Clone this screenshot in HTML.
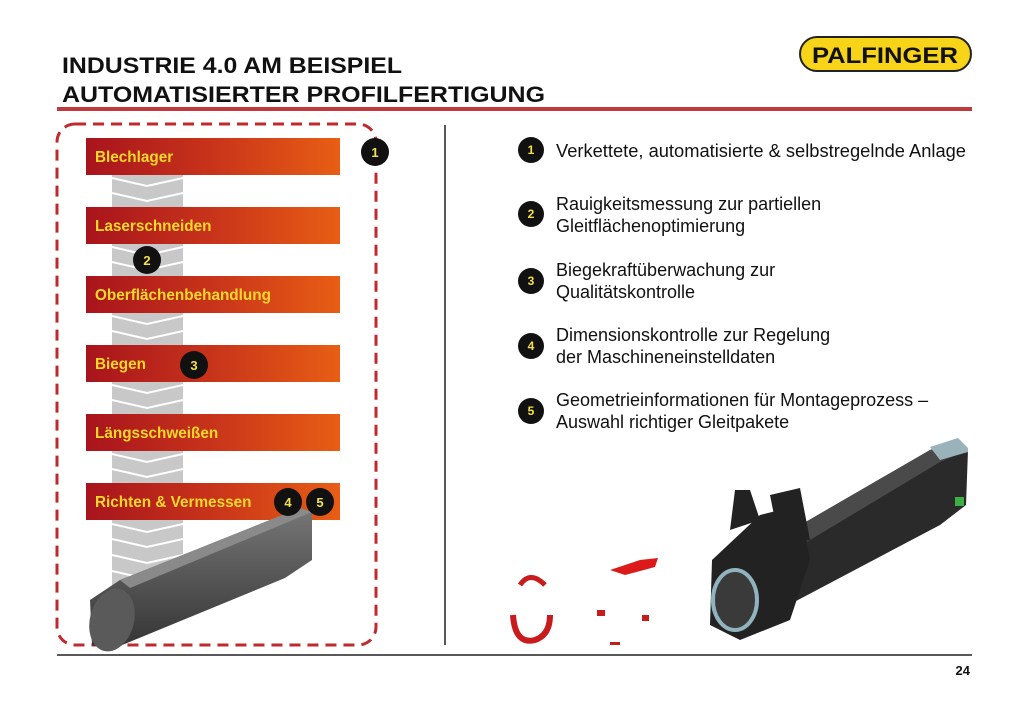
<!DOCTYPE html>
<html><head><meta charset="utf-8"><style>
html,body{margin:0;padding:0;background:#fff;}
svg{display:block;}
text{font-family:"Liberation Sans",Arial,sans-serif;}
</style></head><body>
<svg width="1024" height="702" viewBox="0 0 1024 702" xmlns="http://www.w3.org/2000/svg">
<defs>
<linearGradient id="bar" x1="0" x2="1" y1="0" y2="0">
<stop offset="0" stop-color="#a8141c"/><stop offset="0.5" stop-color="#c8341a"/><stop offset="1" stop-color="#e85e14"/>
</linearGradient>
<linearGradient id="tube" x1="0" x2="0" y1="0" y2="1">
<stop offset="0" stop-color="#777"/><stop offset="0.5" stop-color="#555"/><stop offset="1" stop-color="#333"/>
</linearGradient>
</defs>
<rect width="1024" height="702" fill="#fff"/>
<text x="62" y="73" font-size="22" font-weight="bold" fill="#111" textLength="340" lengthAdjust="spacingAndGlyphs">INDUSTRIE 4.0 AM BEISPIEL</text>
<text x="62" y="102" font-size="22" font-weight="bold" fill="#111" textLength="483" lengthAdjust="spacingAndGlyphs">AUTOMATISIERTER PROFILFERTIGUNG</text>
<rect x="57" y="107" width="915" height="4" fill="#c0393b"/>
<!-- logo -->
<rect x="800" y="37" width="171" height="34" rx="17" fill="#f7d417" stroke="#222" stroke-width="2"/>
<text x="885" y="63" font-size="22" font-weight="bold" text-anchor="middle" fill="#111" textLength="146" lengthAdjust="spacingAndGlyphs">PALFINGER</text>
<!-- left dashed box -->
<rect x="57" y="124" width="319" height="521" rx="18" fill="none" stroke="#c0292e" stroke-width="3" stroke-dasharray="11,7"/>
<!-- gray chevron column -->
<rect x="112" y="175" width="71" height="440" fill="#c8c8c8"/>
<g stroke="#fff" stroke-width="2" fill="none">
<polyline points="112,178 147,186 183,178"/><polyline points="112,193 147,201 183,193"/>
<polyline points="112,247 147,255 183,247"/><polyline points="112,262 147,270 183,262"/>
<polyline points="112,316 147,324 183,316"/><polyline points="112,331 147,339 183,331"/>
<polyline points="112,385 147,393 183,385"/><polyline points="112,400 147,408 183,400"/>
<polyline points="112,454 147,462 183,454"/><polyline points="112,469 147,477 183,469"/>
<polyline points="112,524 147,532 183,524"/><polyline points="112,539 147,547 183,539"/>
<polyline points="112,555 147,563 183,555"/><polyline points="112,571 147,579 183,571"/>
</g>
<g font-size="15.3" font-weight="bold" fill="#f8d92a">
<rect x="86" y="138" width="254" height="37" fill="url(#bar)"/><text x="95" y="162">Blechlager</text>
<rect x="86" y="207" width="254" height="37" fill="url(#bar)"/><text x="95" y="231">Laserschneiden</text>
<rect x="86" y="276" width="254" height="37" fill="url(#bar)"/><text x="95" y="300">Oberflächenbehandlung</text>
<rect x="86" y="345" width="254" height="37" fill="url(#bar)"/><text x="95" y="369">Biegen</text>
<rect x="86" y="414" width="254" height="37" fill="url(#bar)"/><text x="95" y="438">Längsschweißen</text>
<rect x="86" y="483" width="254" height="37" fill="url(#bar)"/><text x="95" y="507">Richten &amp; Vermessen</text>
</g>
<!-- tube -->
<polygon points="120,580 300,508 312,512 312,560 285,578 110,650 92,645 90,600" fill="url(#tube)"/>
<polygon points="120,580 300,508 312,512 130,588" fill="#8a8a8a"/>
<ellipse cx="112" cy="620" rx="22" ry="32" fill="#5a5a5a" transform="rotate(15 112 620)"/>
<!-- badges left -->
<g font-size="13" font-weight="bold" fill="#f3e04a" text-anchor="middle">
<circle cx="375" cy="152" r="14" fill="#111"/><text x="375" y="157">1</text>
<circle cx="147" cy="260" r="14" fill="#111"/><text x="147" y="265">2</text>
<circle cx="194" cy="365" r="14" fill="#111"/><text x="194" y="370">3</text>
<circle cx="288" cy="502" r="14" fill="#111"/><text x="288" y="507">4</text>
<circle cx="320" cy="502" r="14" fill="#111"/><text x="320" y="507">5</text>
</g>
<!-- divider -->
<line x1="445" y1="125" x2="445" y2="645" stroke="#222" stroke-width="1.5"/>
<!-- right list -->
<g font-size="12" font-weight="bold" fill="#f3e04a" text-anchor="middle">
<circle cx="531" cy="150" r="13" fill="#111"/><text x="531" y="154">1</text>
<circle cx="531" cy="214" r="13" fill="#111"/><text x="531" y="218">2</text>
<circle cx="531" cy="281" r="13" fill="#111"/><text x="531" y="285">3</text>
<circle cx="531" cy="346" r="13" fill="#111"/><text x="531" y="350">4</text>
<circle cx="531" cy="411" r="13" fill="#111"/><text x="531" y="415">5</text>
</g>
<g font-size="18" fill="#111">
<text x="556" y="157" textLength="410" lengthAdjust="spacingAndGlyphs">Verkettete, automatisierte &amp; selbstregelnde Anlage</text>
<text x="556" y="210">Rauigkeitsmessung zur partiellen</text>
<text x="556" y="232">Gleitflächenoptimierung</text>
<text x="556" y="276">Biegekraftüberwachung zur</text>
<text x="556" y="298">Qualitätskontrolle</text>
<text x="556" y="341">Dimensionskontrolle zur Regelung</text>
<text x="556" y="363">der Maschineneinstelldaten</text>
<text x="556" y="406">Geometrieinformationen für Montageprozess –</text>
<text x="556" y="428">Auswahl richtiger Gleitpakete</text>
</g>
<!-- right 3D part -->
<polygon points="740,560 930,450 958,440 968,450 966,505 940,525 760,620 720,620" fill="#2a2a2a"/>
<polygon points="740,560 930,450 958,440 968,450 940,462 760,570" fill="#4a4a4a"/>
<polygon points="930,447 958,438 968,448 968,452 940,460" fill="#9ab3bb"/>
<rect x="955" y="497" width="9" height="9" fill="#3cb043"/>
<path d="M712,560 L760,515 L800,505 L810,560 L790,620 L740,640 L710,625 Z" fill="#222"/>
<ellipse cx="735" cy="600" rx="22" ry="30" fill="#3a3a3a" stroke="#8fb4bd" stroke-width="4"/>
<path d="M735,490 L750,490 L760,520 L730,530 Z M770,495 L800,488 L810,540 L780,545 Z" fill="#222"/>
<!-- red parts -->
<path d="M520,585 Q530,570 545,585" stroke="#c81c1c" stroke-width="5" fill="none"/>
<path d="M513,615 Q515,645 535,640 Q550,635 550,615" stroke="#c81c1c" stroke-width="6" fill="none"/>
<polygon points="610,570 640,560 658,558 655,567 625,575" fill="#dd1a1a"/>
<rect x="597" y="610" width="8" height="6" fill="#c81c1c"/>
<rect x="642" y="615" width="7" height="6" fill="#c81c1c"/>
<rect x="610" y="642" width="10" height="3" fill="#c81c1c"/>
<!-- bottom line -->
<line x1="57" y1="655" x2="972" y2="655" stroke="#222" stroke-width="1.5"/>
<text x="970" y="675" font-size="13" font-weight="bold" fill="#111" text-anchor="end">24</text>
</svg>
</body></html>
